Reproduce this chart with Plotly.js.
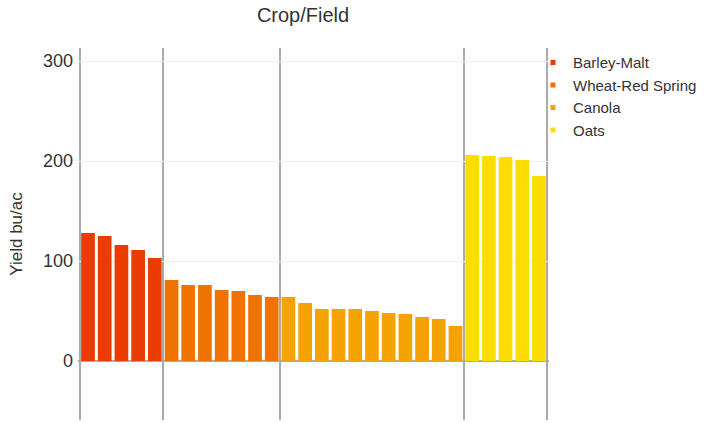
<!DOCTYPE html>
<html>
<head>
<meta charset="utf-8">
<script src="https://cdn.plot.ly/plotly-3.0.1.min.js"></script>
<style>html,body{margin:0;padding:0;background:#fff}#chart{width:713px;height:423px}</style>
</head>
<body>
<div id="chart"></div>
<script>
var crops = ["Barley-Malt", "Wheat-Red Spring", "Canola", "Oats"];
var barleyYield = [128, 125, 116, 111, 103];
var wheatYield = [81, 76, 76, 71, 70, 66, 64];
var canolaYield = [64, 58, 52, 52, 52, 50, 48, 47, 44, 42, 35];
var oatsYield = [206, 205, 204, 201, 185];
var cropColors = ["#ea3c00", "#f07200", "#f5a300", "#fbde00"];
var yTicks = [0, 100, 200, 300];

var groups = [barleyYield, wheatYield, canolaYield, oatsYield];
var traces = [];
var legendTraces = [];
var start = 0;
var boundaries = [-0.5];
groups.forEach(function (vals, gi) {
  var xs = vals.map(function (_, i) { return start + i; });
  traces.push({
    type: "bar",
    name: crops[gi],
    x: xs,
    y: vals,
    marker: {color: cropColors[gi]},
    width: 0.82,
    showlegend: false
  });
  legendTraces.push({
    type: "scatter",
    mode: "markers",
    name: crops[gi],
    x: [null], y: [null],
    marker: {symbol: "square", size: 5, color: cropColors[gi]},
    showlegend: true
  });
  start += vals.length;
  boundaries.push(start - 0.5);
});

var layout = {
  width: 713, height: 423,
  margin: {l: 78, r: 164, t: 48, b: 3, autoexpand: false},
  paper_bgcolor: "#fff", plot_bgcolor: "#fff",
  font: {family: "Liberation Sans, Arial, sans-serif", color: "#333", size: 15},
  title: {text: "Crop/Field", xref: "container", x: 0.425, xanchor: "center",
          yref: "container", y: 0.982, yanchor: "top", font: {size: 20, color: "#333"}},
  barmode: "overlay",
  showlegend: true,
  legend: {x: 0.966, y: 1.005, xanchor: "left", yanchor: "top", font: {size: 15, color: "#333"},
           itemwidth: 30, tracegroupgap: 0, bgcolor: "rgba(0,0,0,0)"},
  xaxis: {
    range: [-0.6, start - 0.4],
    tickvals: boundaries,
    showticklabels: false,
    ticks: "",
    showgrid: true, gridcolor: "#aaaaaa", gridwidth: 2,
    zeroline: false, showline: false, fixedrange: true
  },
  yaxis: {
    range: [-59, 313],
    tickvals: yTicks,
    ticktext: yTicks.map(String),
    ticks: "",
    ticklabelstandoff: 4,
    showgrid: true, gridcolor: "#eeeeee", gridwidth: 1,
    zeroline: true, zerolinecolor: "#aaaaaa", zerolinewidth: 2,
    showline: false,
    tickfont: {size: 18, color: "#333"},
    title: {text: "Yield bu/ac", font: {size: 17, color: "#333"}, standoff: 16}
  }
};
Plotly.newPlot("chart", traces.concat(legendTraces), layout, {displayModeBar: false, staticPlot: true});
</script>
</body>
</html>
